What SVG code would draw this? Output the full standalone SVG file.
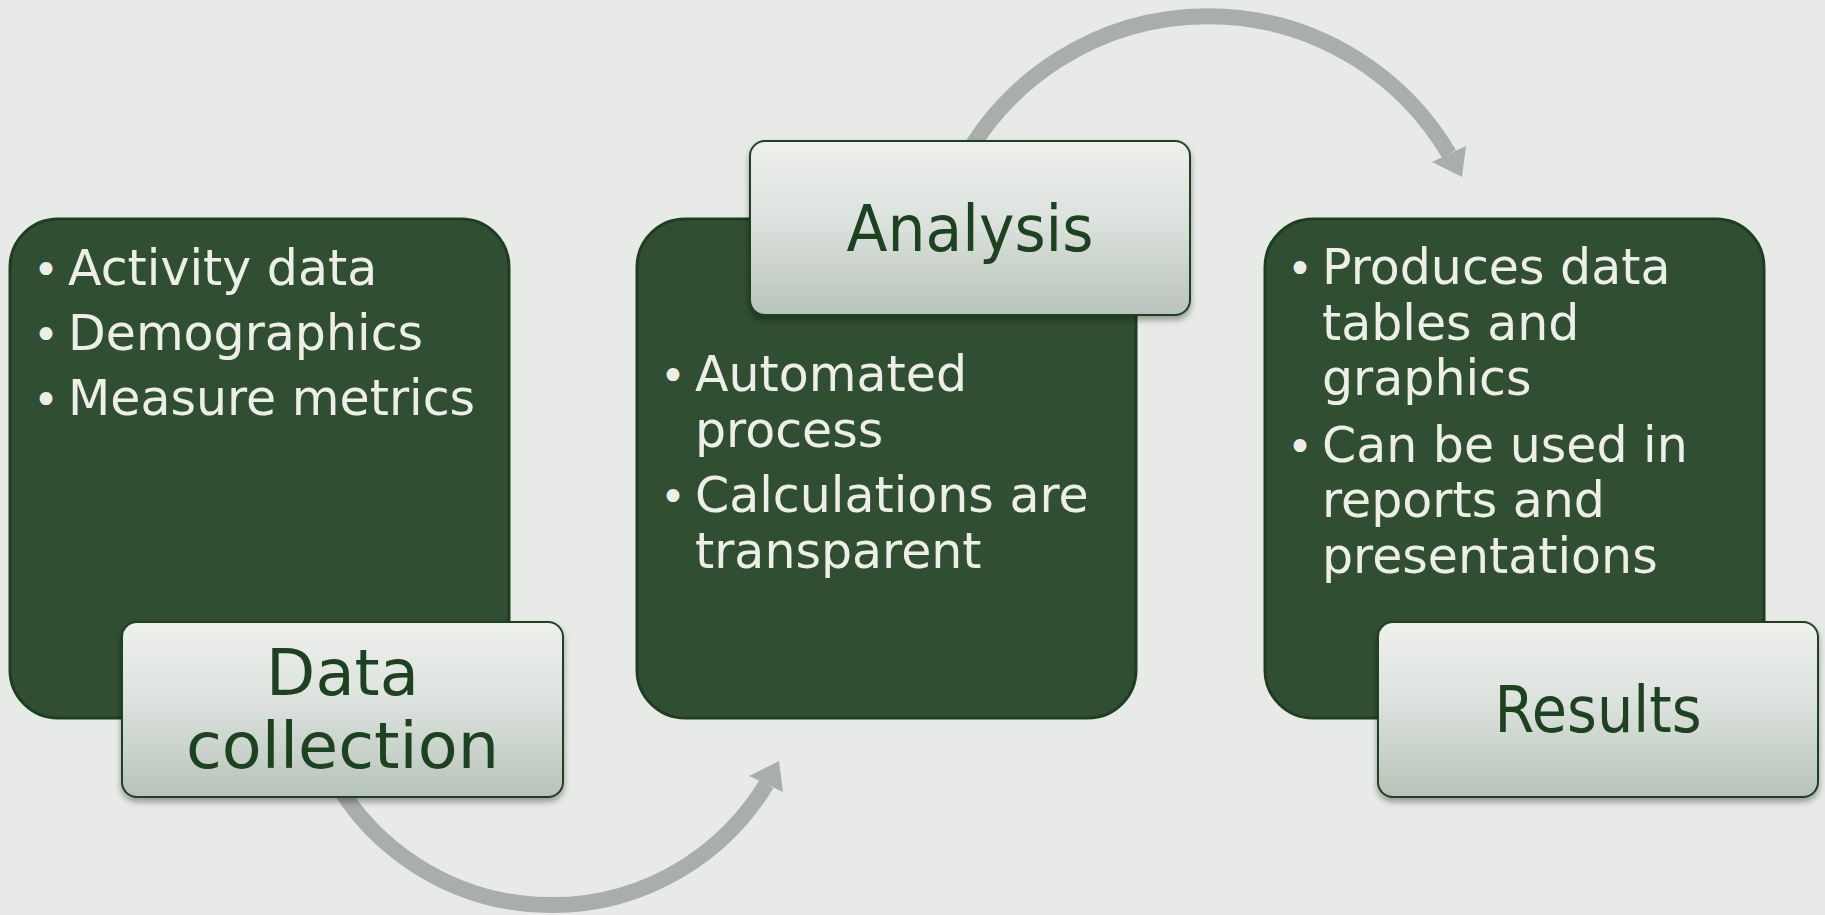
<svg xmlns="http://www.w3.org/2000/svg" width="1825" height="915" viewBox="0 0 1825 915">
  <defs>
    <linearGradient id="labelFill" x1="0" y1="0" x2="0" y2="1">
      <stop offset="0" stop-color="#eef0ec"/>
      <stop offset="0.45" stop-color="#dde2de"/>
      <stop offset="1" stop-color="#b7c3ba"/>
    </linearGradient>
    <filter id="labelShadow" x="-10%" y="-10%" width="120%" height="130%">
      <feDropShadow dx="0" dy="4" stdDeviation="3" flood-color="#000000" flood-opacity="0.35"/>
    </filter>
    <style>
      .panel { fill: #2f4e32; stroke: #1d3f20; stroke-width: 3; }
      .label { fill: url(#labelFill); stroke: #1d4220; stroke-width: 2; filter: url(#labelShadow); }
      .body { font-family: "DejaVu Sans", "Liberation Sans", sans-serif; font-size: 49px; fill: #eeeee9; }
      .dot { font-family: "DejaVu Sans", "Liberation Sans", sans-serif; font-size: 44px; fill: #eeeee9; text-anchor: middle; }
      .title { font-family: "DejaVu Sans", "Liberation Sans", sans-serif; font-size: 64px; fill: #1d4220; text-anchor: middle; }
      .flow { fill: none; stroke: #aaaeaa; stroke-width: 16; }
      .head { fill: #aaaeaa; }
    </style>
  </defs>

  <rect width="1825" height="915" fill="#e8eae7"/>

  <!-- curved flow arrows between the stages -->
  <g id="connectors">
    <path class="flow" d="M 334 779 A 251 251 0 0 0 766.5 784"/>
    <polygon class="head" points="779,761 749,776 783,792"/>
    <path class="flow" d="M 966 156 A 279.5 279.5 0 0 1 1449 154"/>
    <polygon class="head" points="1462,177 1432,162 1466,146"/>
  </g>

  <!-- stage 1: data collection -->
  <g id="node-data-collection">
    <rect class="panel" x="10" y="219" width="499" height="499" rx="48"/>
    <text class="dot" x="46" y="285">•</text>
    <text class="body" x="68" y="285">Activity data</text>
    <text class="dot" x="46" y="350">•</text>
    <text class="body" x="68" y="350">Demographics</text>
    <text class="dot" x="46" y="415">•</text>
    <text class="body" x="68" y="415">Measure metrics</text>
    <rect class="label" x="122" y="622" width="441" height="175" rx="15"/>
    <text class="title" x="342.5" y="695">Data</text>
    <text class="title" x="342.5" y="768" textLength="313" lengthAdjust="spacingAndGlyphs">collection</text>
  </g>

  <!-- stage 2: analysis -->
  <g id="node-analysis">
    <rect class="panel" x="637" y="219" width="499" height="499" rx="48"/>
    <text class="dot" x="673" y="391">•</text>
    <text class="body" x="695" y="391">Automated</text>
    <text class="body" x="695" y="447">process</text>
    <text class="dot" x="673" y="512">•</text>
    <text class="body" x="695" y="512">Calculations are</text>
    <text class="body" x="695" y="568">transparent</text>
    <rect class="label" x="750" y="141" width="440" height="174" rx="15"/>
    <text class="title" x="970" y="251" textLength="247" lengthAdjust="spacingAndGlyphs">Analysis</text>
  </g>

  <!-- stage 3: results -->
  <g id="node-results">
    <rect class="panel" x="1265" y="219" width="499" height="499" rx="48"/>
    <text class="dot" x="1300" y="284">•</text>
    <text class="body" x="1322" y="284">Produces data</text>
    <text class="body" x="1322" y="340">tables and</text>
    <text class="body" x="1322" y="395">graphics</text>
    <text class="dot" x="1300" y="462">•</text>
    <text class="body" x="1322" y="462">Can be used in</text>
    <text class="body" x="1322" y="517">reports and</text>
    <text class="body" x="1322" y="573">presentations</text>
    <rect class="label" x="1378" y="622" width="440" height="175" rx="15"/>
    <text class="title" x="1598" y="732" textLength="207" lengthAdjust="spacingAndGlyphs">Results</text>
  </g>
</svg>
